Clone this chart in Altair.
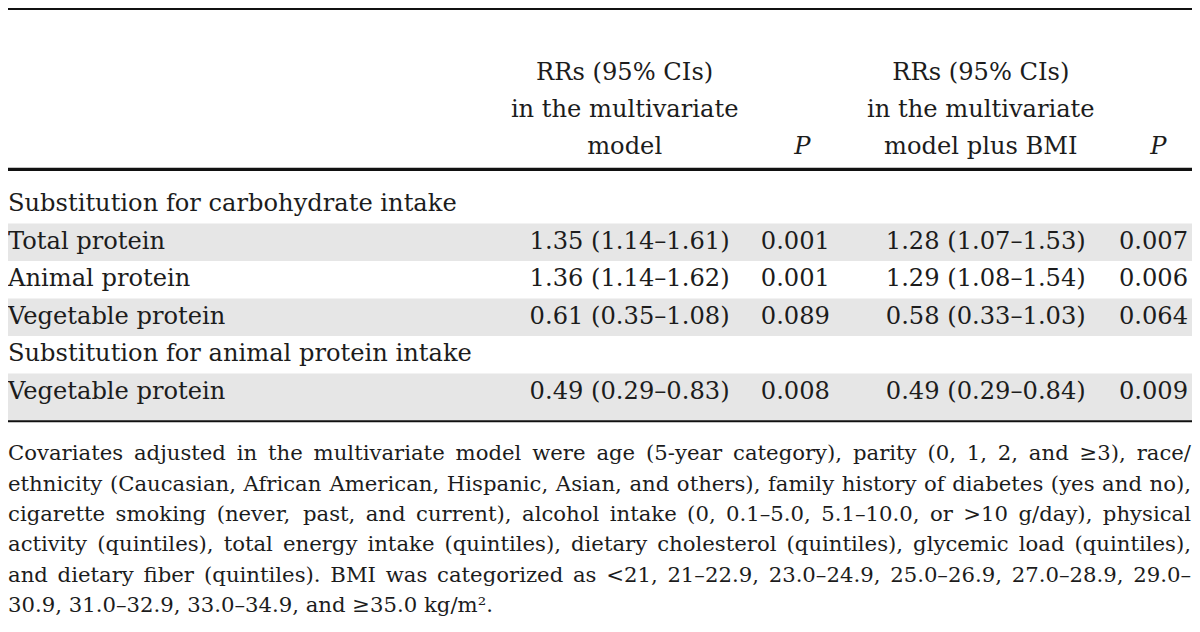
import altair as alt
import pandas as pd
import glob
import struct

# ---------------- data ----------------
row_labels = [
    "Substitution for carbohydrate intake",
    "Total protein",
    "Animal protein",
    "Vegetable protein",
    "Substitution for animal protein intake",
    "Vegetable protein",
]
rr_model = ["", "1.35 (1.14–1.61)", "1.36 (1.14–1.62)", "0.61 (0.35–1.08)", "", "0.49 (0.29–0.83)"]
p_model = ["", "0.001", "0.001", "0.089", "", "0.008"]
rr_bmi = ["", "1.28 (1.07–1.53)", "1.29 (1.08–1.54)", "0.58 (0.33–1.03)", "", "0.49 (0.29–0.84)"]
p_bmi = ["", "0.007", "0.006", "0.064", "", "0.009"]
shaded = [False, True, False, True, False, True]

header_rr_model = ["RRs (95% CIs)", "in the multivariate", "model"]
header_rr_bmi = ["RRs (95% CIs)", "in the multivariate", "model plus BMI"]
header_p = "P"

footnote_lines = [
    "Covariates adjusted in the multivariate model were age (5-year category), parity (0, 1, 2, and ≥3), race/",
    "ethnicity (Caucasian, African American, Hispanic, Asian, and others), family history of diabetes (yes and no),",
    "cigarette smoking (never, past, and current), alcohol intake (0, 0.1–5.0, 5.1–10.0, or >10 g/day), physical",
    "activity (quintiles), total energy intake (quintiles), dietary cholesterol (quintiles), glycemic load (quintiles),",
    "and dietary fiber (quintiles). BMI was categorized as <21, 21–22.9, 23.0–24.9, 25.0–26.9, 27.0–28.9, 29.0–",
    "30.9, 31.0–32.9, 33.0–34.9, and ≥35.0 kg/m².",
]

# ---------------- layout (reference pixel space) ----------------
REF_W, REF_H = 1200, 632
W, H = 1184, 616
S = W / REF_W
FONT = "DejaVu Serif"
BODY_REF = 24.5
FOOT_REF = 21.5
BODY_SIZE = BODY_REF * S
FOOT_SIZE = FOOT_REF * S
INK = "#1c1c1c"

col_center = {"rr_model": 630, "p_model": 798, "rr_bmi": 991, "p_bmi": 1161}
head_center = {"rr_model": 625, "p_model": 805, "rr_bmi": 986, "p_bmi": 1166}
head_base = [74, 112, 150]
row_top0, pitch, text_off, last_extra = 182.5, 38.5, 26, 10
foot_base0, foot_pitch = 464, 31.2


# ---------- glyph advance widths (for justifying the footnote) ----------
def make_measure():
    paths = glob.glob("/usr/share/fonts/**/DejaVuSerif.ttf", recursive=True)
    paths += glob.glob("/usr/local/share/fonts/**/DejaVuSerif.ttf", recursive=True)
    if not paths:
        try:
            import subprocess
            out = subprocess.run(["fc-match", "-f", "%{file}", "DejaVu Serif"],
                                 capture_output=True, text=True).stdout.strip()
            if out.endswith("DejaVuSerif.ttf"):
                paths = [out]
        except Exception:
            pass
    if not paths:
        return None
    data = open(paths[0], "rb").read()
    ntab = struct.unpack(">H", data[4:6])[0]
    tabs = {}
    for i in range(ntab):
        tag, _cs, off, ln = struct.unpack(">4sIII", data[12 + 16 * i:28 + 16 * i])
        tabs[tag.decode("latin1")] = off
    upem = struct.unpack(">H", data[tabs["head"] + 18:tabs["head"] + 20])[0]
    nhm = struct.unpack(">H", data[tabs["hhea"] + 34:tabs["hhea"] + 36])[0]
    hm = tabs["hmtx"]
    adv = [struct.unpack(">H", data[hm + 4 * i:hm + 4 * i + 2])[0] for i in range(nhm)]
    cm = tabs["cmap"]
    nsub = struct.unpack(">H", data[cm + 2:cm + 4])[0]
    sub = None
    for i in range(nsub):
        pid, eid, off = struct.unpack(">HHI", data[cm + 4 + 8 * i:cm + 12 + 8 * i])
        fmt = struct.unpack(">H", data[cm + off:cm + off + 2])[0]
        if fmt == 4 and pid in (0, 3):
            sub = cm + off
            break
    if sub is None:
        return None
    segx2 = struct.unpack(">H", data[sub + 6:sub + 8])[0]
    seg = segx2 // 2
    ends = struct.unpack(">%dH" % seg, data[sub + 14:sub + 14 + segx2])
    starts = struct.unpack(">%dH" % seg, data[sub + 16 + segx2:sub + 16 + 2 * segx2])
    deltas = struct.unpack(">%dh" % seg, data[sub + 16 + 2 * segx2:sub + 16 + 3 * segx2])
    rpos = sub + 16 + 3 * segx2
    roffs = struct.unpack(">%dH" % seg, data[rpos:rpos + segx2])

    def glyph(ch):
        c = ord(ch)
        for i in range(seg):
            if ends[i] >= c:
                if starts[i] > c:
                    return 0
                if roffs[i] == 0:
                    return (c + deltas[i]) & 0xFFFF
                addr = rpos + 2 * i + roffs[i] + 2 * (c - starts[i])
                g = struct.unpack(">H", data[addr:addr + 2])[0]
                return (g + deltas[i]) & 0xFFFF if g else 0
        return 0

    def measure(s, size):
        return sum(adv[min(glyph(ch), nhm - 1)] for ch in s) / upem * size

    return measure


try:
    measure = make_measure()
except Exception:
    measure = None

xs = alt.Scale(domain=[0, REF_W], nice=False, zero=False)
ys = alt.Scale(domain=[0, REF_H], nice=False, zero=False, reverse=True)
X = alt.X("x:Q", scale=xs, axis=None)
Y = alt.Y("y:Q", scale=ys, axis=None)

# bands
band_rows = []
for i, sh in enumerate(shaded):
    if sh:
        top = row_top0 + i * pitch
        bot = top + pitch + (last_extra if i == len(shaded) - 1 else 0)
        band_rows.append({"x": 0, "x2": REF_W, "y": top, "y2": bot})
bands = alt.Chart(pd.DataFrame(band_rows)).mark_rect(color="#e6e6e6").encode(
    x=X, x2="x2:Q", y=Y, y2="y2:Q"
)

# rules
bottom_y = row_top0 + len(shaded) * pitch + last_extra + 0.5
rule_rows = [
    {"x": 0, "x2": REF_W, "y": 1, "w": 2.2},
    {"x": 0, "x2": REF_W, "y": 165.5, "w": 3.2},
    {"x": 0, "x2": REF_W, "y": bottom_y, "w": 2.2},
]
rules = alt.Chart(pd.DataFrame(rule_rows)).mark_rule(color="#111111").encode(
    x=X, x2="x2:Q", y=Y, size=alt.Size("w:Q", scale=None, legend=None)
)

# header text
head_rows = []
for k, t in enumerate(header_rr_model):
    head_rows.append({"x": head_center["rr_model"], "y": head_base[k], "t": t})
for k, t in enumerate(header_rr_bmi):
    head_rows.append({"x": head_center["rr_bmi"], "y": head_base[k], "t": t})
head = alt.Chart(pd.DataFrame(head_rows)).mark_text(
    font=FONT, fontSize=BODY_SIZE, align="center", baseline="alphabetic", color=INK
).encode(x=X, y=Y, text="t:N")
p_rows = [
    {"x": head_center["p_model"], "y": head_base[2], "t": header_p},
    {"x": head_center["p_bmi"], "y": head_base[2], "t": header_p},
]
head_p = alt.Chart(pd.DataFrame(p_rows)).mark_text(
    font=FONT, fontSize=BODY_SIZE, fontStyle="italic", align="center", baseline="alphabetic", color=INK
).encode(x=X, y=Y, text="t:N")

# body cells
label_rows = []
cell_rows = []
for i in range(len(row_labels)):
    yb = row_top0 + i * pitch + text_off
    label_rows.append({"x": 0, "y": yb, "t": row_labels[i]})
    for key, col in (("rr_model", rr_model), ("p_model", p_model), ("rr_bmi", rr_bmi), ("p_bmi", p_bmi)):
        if col[i]:
            cell_rows.append({"x": col_center[key], "y": yb, "t": col[i]})
labels = alt.Chart(pd.DataFrame(label_rows)).mark_text(
    font=FONT, fontSize=BODY_SIZE, align="left", baseline="alphabetic", color=INK
).encode(x=X, y=Y, text="t:N")
cells = alt.Chart(pd.DataFrame(cell_rows)).mark_text(
    font=FONT, fontSize=BODY_SIZE, align="center", baseline="alphabetic", color=INK
).encode(x=X, y=Y, text="t:N")

# footnote (justified, last line flush left)
foot_rows = []
for k, line in enumerate(footnote_lines):
    yb = foot_base0 + k * foot_pitch
    words = line.split(" ")
    if measure is None or k == len(footnote_lines) - 1 or len(words) < 2:
        foot_rows.append({"x": 0, "y": yb, "t": line})
        continue
    widths = [measure(w, FOOT_REF) for w in words]
    space = measure(" ", FOOT_REF)
    gap = (REF_W - 1 - sum(widths)) / (len(words) - 1)
    if gap < space * 0.6:
        gap = space
    xpos = 0.0
    for w, wd in zip(words, widths):
        foot_rows.append({"x": xpos, "y": yb, "t": w})
        xpos += wd + gap
foot = alt.Chart(pd.DataFrame(foot_rows)).mark_text(
    font=FONT, fontSize=FOOT_SIZE, align="left", baseline="alphabetic", color=INK
).encode(x=X, y=Y, text="t:N")

chart = alt.layer(bands, rules, head, head_p, labels, cells, foot).properties(
    width=W, height=H, padding=0, autosize=alt.AutoSizeParams(type="none"), background="white"
).configure_view(stroke=None)

chart.save("out.html", embed_options={"renderer": "svg", "actions": False})
